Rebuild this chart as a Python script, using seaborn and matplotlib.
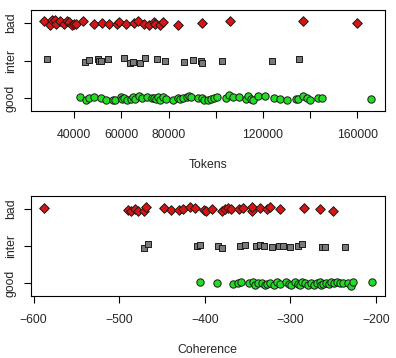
import numpy as np
import pandas as pd
import matplotlib
matplotlib.use('Agg')
import matplotlib.pyplot as plt
import seaborn as sns

# Tokens per essay, by group
tokens_bad = [27040, 29710, 30700, 32110, 32530, 33940, 35910, 37040, 37750, 39150,
              40140, 40990, 43660, 48600, 51840, 54650, 58180, 59160, 62120, 65220,
              66910, 69450, 71560, 73680, 74380, 76490, 77480, 83960, 94390, 106080,
              136800, 159760]
tokens_bad_jit = [-5, 7, -7, -8, 2, -4, 2, -6, -2, 7, 3, 4, -5, 3, 0, 4, 2, -3, 2, 0,
                  -4, 2, 6, -2, 2, 6, -2, 6, 0, -4, -5, 0]
tokens_inter = [28305, 44790, 46480, 50140, 50710, 51270, 54370, 60990, 63670, 64940,
                68040, 70010, 75080, 78610, 86500, 90300, 93820, 94240, 102700, 123840,
                135390]
tokens_inter_jit = [-3, 4, -1, -3, 0, 2, -5, -6, 6, 3, 6, -6, -3, 0, 4, -1, 2, 6, 0, 1, -4]
tokens_good = [42680, 44930, 46340, 48310, 51410, 53390, 56340, 57470, 59870, 60430,
               61280, 62400, 64090, 64940, 65930, 67330, 68740, 70860, 72970, 73960,
               74660, 75360, 76210, 77480, 78890, 81850, 83960, 84950, 86070, 87770,
               88750, 89450, 92410, 94390, 94950, 96920, 98050, 99180, 100730, 104390,
               105800, 107490, 109890, 112840, 113830, 114820, 115660, 117780, 120880,
               124680, 127220, 130040, 133840, 134680, 137080, 138490, 139900, 143140,
               145250, 165960]
tokens_good_jit = [-3, 6, -1, -3, -1, 4, 5, 6, -4, 2, -1, 4, 2, -2, 1, -6, 0, -2, 0, -1,
                   1, -2, 4, -3, 2, 4, 0, 2, -1, -3, -5, -2, -1, 0, 6, 6, 1, -1, -3, -1,
                   -8, -4, -2, 2, -5, 1, 4, -6, -5, -1, 1, 4, 1, 1, -6, -1, 4, -1, -1, 3]

# Coherence scores, by group
coh_bad = [-588.3, -489.9, -486.0, -482.1, -478.2, -471.6, -468.5, -447.5, -439.7, -430.0,
           -426.1, -417.1, -411.3, -401.6, -398.4, -391.8, -380.2, -376.3, -373.2, -369.3,
           -360.7, -355.6, -345.1, -344.4, -335.4, -327.6, -324.5, -312.1, -284.8, -265.4,
           -249.8]
coh_bad_jit = [-2, 3, 7, 1, 7, 7, -4, -2, 5, 5, 1, -4, -2, 3, 8, 2, 8, 2, -2, 0, 0, -2,
               6, -5, -1, 2, -4, 2, -1, 0, 7]
coh_inter = [-470.8, -466.9, -409.3, -405.4, -384.8, -380.2, -359.5, -352.9, -340.1, -336.2,
             -330.7, -321.8, -314.0, -308.2, -300.4, -290.7, -286.8, -263.4, -259.5, -236.2]
coh_inter_jit = [6, -6, 0, -3, 1, 6, -1, -3, -1, -4, 0, 2, 0, 1, 2, -1, -6, 3, 4, 3]
coh_good = [-406.2, -386.0, -367.7, -361.9, -358.0, -349.0, -344.0, -341.6, -338.5, -333.5,
            -329.6, -327.6, -323.7, -319.1, -315.2, -312.1, -305.1, -302.0, -299.2, -295.0,
            -291.8, -288.7, -286.0, -282.9, -279.0, -275.9, -272.4, -269.3, -266.1, -264.2,
            -261.5, -258.4, -255.6, -252.5, -249.0, -245.1, -242.0, -238.1, -232.3, -229.6,
            -227.2, -205.0]
coh_good_jit = [-5, -1, 2, -2, -4, 0, -4, 5, 0, -2, 6, 1, -2, 5, -4, 1, -3, 1, 6, -3, 1,
                4, -3, 0, 4, -2, 5, 0, -3, 6, 1, -2, 2, -5, 0, -4, -1, 0, -2, 7, -4, -3]

levels = ['good', 'inter', 'bad']
group_style = {'good': ('o', '#22dd22', 28),
               'inter': ('s', '#7a7a7a', 21),
               'bad': ('D', '#d81414', 24)}


def make_df(good, good_j, inter, inter_j, bad, bad_j):
    rows = []
    for name, vals, jit in [('good', good, good_j), ('inter', inter, inter_j), ('bad', bad, bad_j)]:
        base = levels.index(name) + 1
        for v, j in zip(vals, jit):
            # jitter read in zoomed pixels (112 px per category step)
            rows.append({'value': v, 'y': base - j / 112.0, 'group': name})
    return pd.DataFrame(rows)


tok_df = make_df(tokens_good, tokens_good_jit, tokens_inter, tokens_inter_jit,
                 tokens_bad, tokens_bad_jit)
coh_df = make_df(coh_good, coh_good_jit, coh_inter, coh_inter_jit, coh_bad, coh_bad_jit)

sns.set_style('white')
plt.rcParams['font.family'] = ['Liberation Sans', 'DejaVu Sans']
plt.rcParams['axes.unicode_minus'] = True

fig = plt.figure(figsize=(3.96, 3.58), dpi=100)
ax1 = fig.add_axes([0.0775, 0.690, 0.8945, 0.282])
ax2 = fig.add_axes([0.0775, 0.173, 0.8945, 0.2795])


def draw(ax, df, xlim, xticks, xticklabels, xlabel):
    for g in levels:
        m, c, s = group_style[g]
        sub = df[df['group'] == g]
        sns.scatterplot(data=sub, x='value', y='y', marker=m, color=c, s=s,
                        edgecolor='#1a1a1a', linewidth=0.7, ax=ax, legend=False)
    ax.set_xlim(xlim)
    ax.set_ylim(0.66, 3.34)
    ax.set_xticks(xticks)
    ax.set_xticklabels(xticklabels, fontsize=8.8)
    ax.set_yticks([1, 2, 3])
    ax.set_yticklabels(levels, fontsize=8.8, rotation=90, va='center')
    ax.tick_params(axis='both', direction='out', length=5, width=0.8, color='black',
                   bottom=True, left=True)
    ax.tick_params(axis='x', pad=8)
    ax.tick_params(axis='y', pad=5)
    ax.set_xlabel(xlabel, fontsize=8.8, labelpad=13)
    ax.set_ylabel('')
    for sp in ax.spines.values():
        sp.set_color('black')
        sp.set_linewidth(0.8)


draw(ax1, tok_df, (21600, 171700), [40000, 60000, 80000, 100000, 120000, 140000, 160000],
     ['40000', '60000', '80000', '', '120000', '', '160000'], 'Tokens')
draw(ax2, coh_df, (-603.5, -189.7), [-600, -500, -400, -300, -200],
     ['\u2212600', '\u2212500', '\u2212400', '\u2212300', '\u2212200'], 'Coherence')

plt.savefig('out.png', dpi=100)
